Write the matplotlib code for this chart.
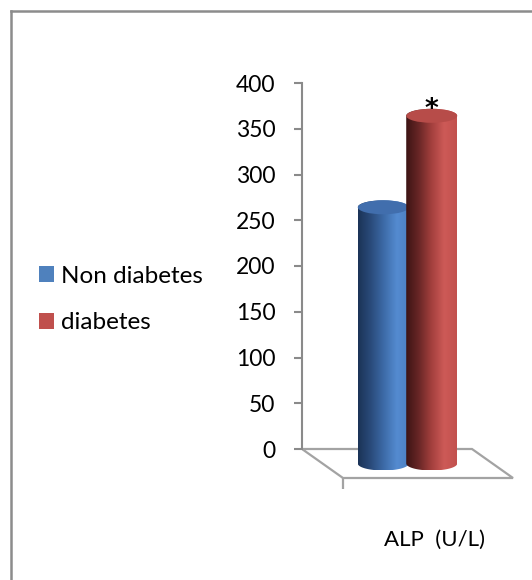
import numpy as np
import matplotlib
matplotlib.use("Agg")
import matplotlib.pyplot as plt
from matplotlib.patches import Polygon, Ellipse, Patch
from matplotlib.lines import Line2D
from matplotlib.colors import LinearSegmentedColormap

plt.rcParams['font.family'] = ['Lato', 'DejaVu Sans']

# ---- data ----
category = "ALP  (U/L)"
series_names = ["Non diabetes", "diabetes"]
series_values = [280, 380]
series_colors = ["#4f81bd", "#c0504d"]
y_ticks = [0, 50, 100, 150, 200, 250, 300, 350, 400]
significance = ["", "*"]

# gradient stops for the cylinder bodies (left -> right) and top faces
body_stops = [
    ["#1b3356", "#2a4b7b", "#3d6ba8", "#548bd0", "#4d80c2"],
    ["#3c1414", "#682626", "#a33f3d", "#cd5a57", "#c2514e"],
]
top_colors = ["#416ead", "#b74c49"]

# ---- figure / axes ----
W, H = 532, 580
fig = plt.figure(figsize=(W / 100, H / 100), dpi=100)
fig.patch.set_facecolor("white")

px_x = 170.0            # pixels per x unit
px_y = 0.915            # pixels per value unit
y_min, y_max = -50, 400
x_min, x_max = 0, 1.25
ax_left, ax_top = 302, 83
ax_w = (x_max - x_min) * px_x
ax_h = (y_max - y_min) * px_y
ax = fig.add_axes([ax_left / W, 1 - (ax_top + ax_h) / H, ax_w / W, ax_h / H])
ax.set_xlim(x_min, x_max)
ax.set_ylim(y_min, y_max)
ax.set_facecolor("none")

for s in ["top", "right", "bottom"]:
    ax.spines[s].set_visible(False)
axis_gray = "#8a8a8a"
ax.spines["left"].set_bounds(0, 400)
ax.spines["left"].set_color(axis_gray)
ax.spines["left"].set_linewidth(1.5)
ax.set_yticks(y_ticks)
ax.set_yticklabels([str(t) for t in y_ticks])
ax.tick_params(axis="y", direction="out", length=6, width=1.5, color=axis_gray,
               labelsize=16.5, pad=13, labelcolor="black")
ax.set_xticks([])

# oblique depth offset of the floor (full depth)
depth_dx = 41 / px_x
depth_dy = -29 / px_y

# floor
floor = Polygon([(0, 0), (1.0, 0), (1.0 + depth_dx, depth_dy), (depth_dx, depth_dy)],
                closed=True, facecolor="white", edgecolor="#a3a3a3", lw=1.6, zorder=1)
ax.add_patch(floor)
# category tick on the front floor edge
ax.plot([depth_dx, depth_dx], [depth_dy, depth_dy - 11 / px_y], color="#a3a3a3",
        lw=1.6, zorder=1, solid_capstyle="butt")

# cylinders
n = len(series_values)
cat_center = 0.5
offset = 0.1425
rx = 25.5 / px_x
ry = 7.0 / px_y
shift_x = 0.5 * depth_dx
shift_y = 0.5 * depth_dy

for i, (val, stops, topc) in enumerate(zip(series_values, body_stops, top_colors)):
    cx = cat_center + (i - (n - 1) / 2) * 2 * offset + shift_x
    yb = shift_y
    yt = val + shift_y
    t_bot = np.linspace(np.pi, 2 * np.pi, 60)
    t_top = np.linspace(0, np.pi, 60)
    pts = np.vstack([
        np.column_stack([cx + rx * np.cos(t_bot), yb + ry * np.sin(t_bot)]),
        np.column_stack([cx + rx * np.cos(t_top), yt + ry * np.sin(t_top)]),
    ])
    body = Polygon(pts, closed=True, facecolor="none", edgecolor="none", zorder=2 + 2 * i)
    ax.add_patch(body)
    cmap = LinearSegmentedColormap.from_list(f"cyl{i}", stops)
    grad = np.linspace(0, 1, 256)[None, :]
    im = ax.imshow(grad, cmap=cmap, aspect="auto", interpolation="bilinear",
                   extent=[cx - rx, cx + rx, yb - ry, yt + ry], zorder=2 + 2 * i)
    im.set_clip_path(body)
    top = Ellipse((cx, yt), 2 * rx, 2 * ry, facecolor=topc, edgecolor="none",
                  zorder=3 + 2 * i)
    ax.add_patch(top)
    if significance[i]:
        ax.text(cx, yt + ry - 14 / px_y, significance[i], ha="center", va="bottom",
                fontsize=19, fontweight="bold", color="black", zorder=10,
                family="DejaVu Sans")

ax.set_xlim(x_min, x_max)
ax.set_ylim(y_min, y_max)

# category label under the floor
ax.text(depth_dx + 0.54, (449 - 540) / px_y, category, ha="center", va="center",
        fontsize=16, color="black", clip_on=False)

# legend
handles = [Patch(facecolor=c, edgecolor="none") for c in series_colors]
fig.legend(handles, series_names, loc="center left",
           bbox_to_anchor=(39 / W, 1 - 299.5 / H), frameon=False, fontsize=17.5,
           handlelength=0.62, handleheight=0.62, handletextpad=0.3,
           labelspacing=1.05, borderpad=0, borderaxespad=0)

# outer frame
frame_kw = dict(transform=fig.transFigure, color="#8c8c8c", lw=1.8)
fig.add_artist(Line2D([10.5 / W, 10.5 / W], [0, 1 - 10.5 / H], **frame_kw))
fig.add_artist(Line2D([10.5 / W, 1], [1 - 10.5 / H, 1 - 10.5 / H], **frame_kw))

fig.savefig("out.png", dpi=100)
